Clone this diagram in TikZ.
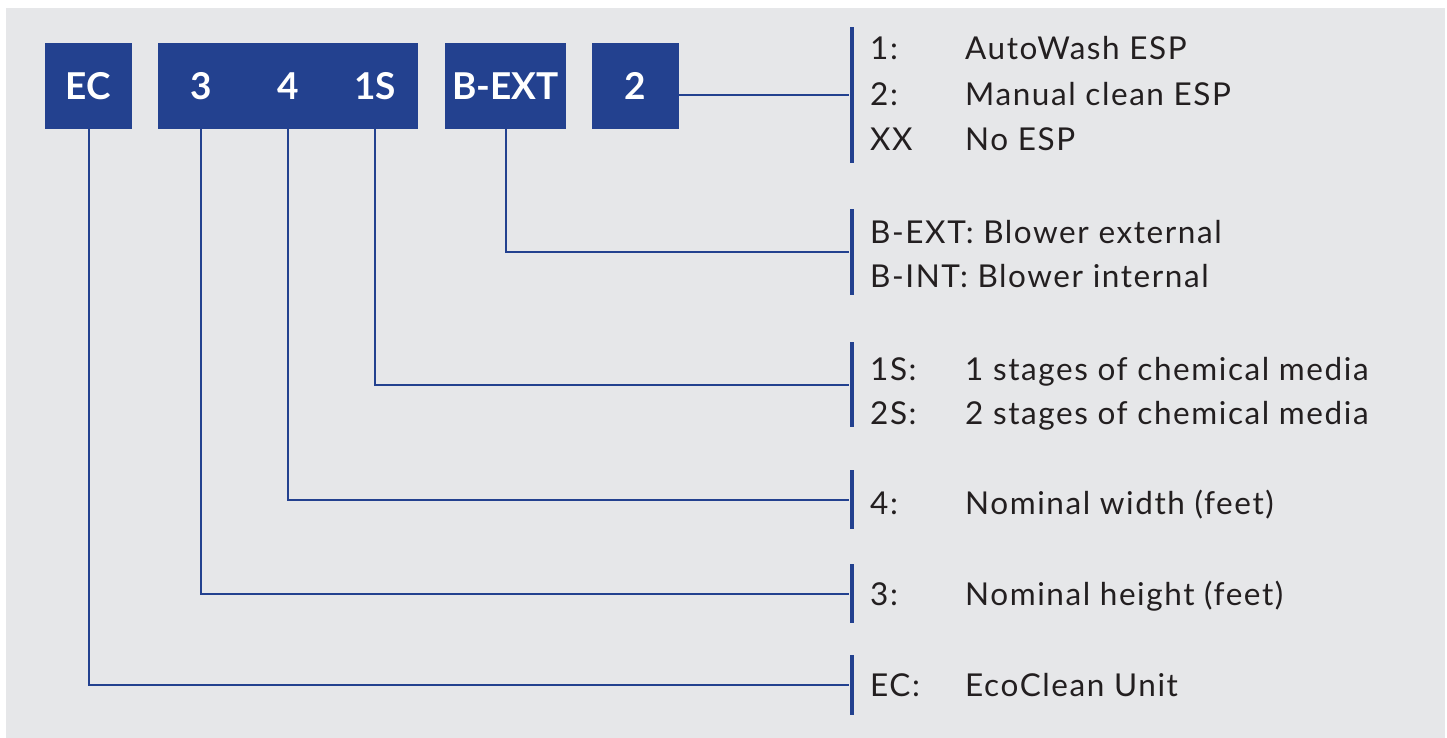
\documentclass[tikz,border=0pt]{standalone}
\usepackage{fontspec}
\setmainfont{Lato}
\newfontfamily\keyfont[LetterSpace=5]{Lato}
\usetikzlibrary{positioning}
\definecolor{codeblue}{RGB}{35,65,143}
\definecolor{panelgrey}{RGB}{230,231,233}
\definecolor{textgrey}{RGB}{35,31,32}

\tikzset{
  codebox/.style={fill=codeblue, minimum height=86pt, inner sep=0pt, text=white,
    font=\fontsize{37}{40}\selectfont\bfseries},
  codetext/.style={inner sep=0pt, text=white, font=\fontsize{37}{40}\selectfont\bfseries},
  keybar/.style={fill=codeblue, minimum width=4pt, inner sep=0pt},
  keytext/.style={anchor=base west, inner sep=0pt, text=textgrey,
    font=\keyfont\fontsize{31.5}{36}\selectfont},
  link/.style={draw=codeblue, line width=2pt},
}

\begin{document}
\begin{tikzpicture}[x=1pt,y=-1pt]
\useasboundingbox (0,0) rectangle (1447,738);
\fill[panelgrey] (6,8) rectangle (1445,738);

% code blocks along the top
\node[codebox, minimum width=87pt] (ec) at (88.5,86) {EC};
\node[codebox, minimum width=260pt] (dims) at (288,86) {};
\node[codetext] (d3) at (201,86) {3};
\node[codetext] (d4) at (288,86) {4};
\node[codetext] (d1s) at (375,86) {1S};
\node[codebox, minimum width=121pt] (bext) at (505.5,86) {B-EXT};
\node[codebox, minimum width=87pt] (esp) at (635.5,86) {2};

% key bars on the right
\node[keybar, minimum height=136pt] (barESP) at (851.5,95) {};
\node[keybar, minimum height=86pt] (barBlower) at (851.5,252) {};
\node[keybar, minimum height=85pt] (barStages) at (851.5,384.5) {};
\node[keybar, minimum height=59pt] (barWidth) at (851.5,499.5) {};
\node[keybar, minimum height=59pt] (barHeight) at (851.5,593.5) {};
\node[keybar, minimum height=60pt] (barEC) at (851.5,685) {};

\draw[link] (esp.east |- barESP) -- (barESP.west);
\draw[link] (bext.south) |- (barBlower.west);
\draw[link] (d1s |- dims.south) |- (barStages.west);
\draw[link] (d4 |- dims.south) |- (barWidth.west);
\draw[link] (d3 |- dims.south) |- (barHeight.west);
\draw[link] (ec.south) |- (barEC.west);

% key texts
\foreach \code/\desc/\yb [count=\i] in {1:/AutoWash ESP/60, 2:/Manual clean ESP/106, XX/No ESP/151}{
  \node[keytext] (espcode\i) at (870,\yb) {\code};
  \node[keytext] (espdesc\i) at (965,\yb) {\desc};
}
\node[keytext] (blowext) at (870,243) {B-EXT: Blower external};
\node[keytext] (blowint) at (870,287) {B-INT: Blower internal};
\node[keytext] (stcode1) at (870,380) {1S:};
\node[keytext] (stdesc1) at (965,380) {1 stages of chemical media};
\node[keytext] (stcode2) at (870,424) {2S:};
\node[keytext] (stdesc2) at (965,424) {2 stages of chemical media};
\node[keytext] (wcode) at (870,514) {4:};
\node[keytext] (wdesc) at (965,514) {Nominal width (feet)};
\node[keytext] (hcode) at (870,605) {3:};
\node[keytext] (hdesc) at (965,605) {Nominal height (feet)};
\node[keytext] (eccode) at (870,696) {EC:};
\node[keytext] (ecdesc) at (965,696) {EcoClean Unit};
\end{tikzpicture}
\end{document}
